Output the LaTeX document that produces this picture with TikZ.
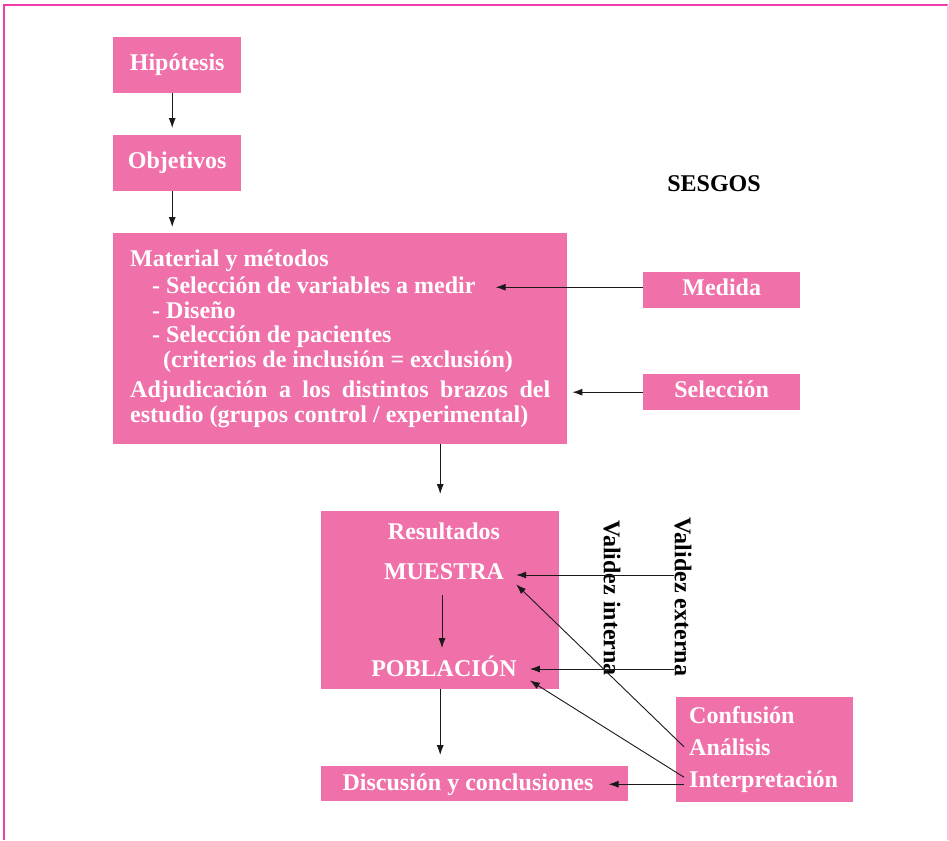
\documentclass[tikz,border=0pt]{standalone}
\usepackage{fontspec}
\setmainfont{Liberation Serif}
\usetikzlibrary{arrows.meta}
\definecolor{boxpink}{RGB}{240,113,169}
\definecolor{framemag}{RGB}{240,60,170}
\definecolor{framelight}{RGB}{249,197,228}

\begin{document}
\begin{tikzpicture}[x=1pt,y=-1pt,
  every node/.style={font=\fontsize{24}{25}\selectfont\bfseries},
  box/.style={fill=boxpink, draw=none, inner sep=0pt, anchor=north west,
              text=white, text height=16pt, text depth=5pt},
  wtxt/.style={text=white, inner sep=0pt},
  btxt/.style={text=black, inner sep=0pt},
  arr/.style={draw=black!90, line width=0.9pt, -{Latex[length=10pt,width=7pt]}}]

\useasboundingbox (0,0) rectangle (949,840);

% page frame
\draw[framemag, line width=2pt] (3.5,840) -- (3.5,5.5) -- (948,5.5);
\draw[framelight, line width=1.5pt] (948,5.5) -- (948,840);

% boxes
\node[box, minimum width=128pt, minimum height=56pt] (hip) at (113,37) {Hipótesis};
\node[box, minimum width=128pt, minimum height=56pt] (obj) at (113,135) {Objetivos};
\node[box, minimum width=454pt, minimum height=211pt] (matbox) at (113,233) {};
\node[box, minimum width=157pt, minimum height=36pt] (medida) at (643,272) {Medida};
\node[box, minimum width=157pt, minimum height=36pt] (selec) at (643,374) {Selección};
\node[box, minimum width=238pt, minimum height=178pt] (resbox) at (321,511) {};
\node[box, minimum width=307pt, minimum height=35pt] (discbox) at (321,766) {};
\node[box, minimum width=177pt, minimum height=105pt] (confbox) at (676,697) {};

% methods text
\node[wtxt, anchor=base west] (mattitle) at (130,266) {Material y métodos};
\node[wtxt, anchor=base west] (var) at (152,293) {- Selección de variables a medir};
\node[wtxt, anchor=base west] (dis) at (152,318) {- Diseño};
\node[wtxt, anchor=base west] (pac) at (152,342) {- Selección de pacientes};
\node[wtxt, anchor=base west] (crit) at (163,367) {(criterios de inclusión = exclusión)};
\node[wtxt, anchor=base west] (adj) at (130,397) {\makebox[420pt][s]{Adjudicación a los distintos brazos del}};
\node[wtxt, anchor=base west] (est) at (130,422) {estudio (grupos control / experimental)};

% heading
\node[btxt, anchor=base] (sesgos) at (714,191) {SESGOS};

% results
\node[wtxt, anchor=base] (res) at (444,539) {Resultados};
\node[wtxt, anchor=base, inner xsep=12pt, inner ysep=5pt] (mue) at (444,579) {MUESTRA};
\node[wtxt, anchor=base, inner xsep=13pt, inner ysep=4pt] (pob) at (444,676) {POBLACIÓN};

% discussion
\node[wtxt, anchor=base, inner xsep=15pt] (disctxt) at (468,790) {Discusión y conclusiones};

% bias sources
\node[wtxt, anchor=base west, inner xsep=5pt] (conf) at (684,723) {Confusión};
\node[wtxt, anchor=base west, inner xsep=5pt] (anal) at (684,755) {Análisis};
\node[wtxt, anchor=base west, inner xsep=5pt] (interp) at (684,787) {Interpretación};

% validity labels
\node[btxt, rotate=-90] (vext) at (683,597) {Validez externa};
\node[btxt, rotate=-90] (vint) at (612,598) {Validez interna};

% helper points for connectors
\coordinate (medL) at ([yshift=3pt]medida.west);
\coordinate (mueL) at ([yshift=4pt]mue.base);
\coordinate (pobL) at ([yshift=7pt]pob.base);
\coordinate (intP) at ([yshift=4pt]interp.west);
\coordinate (intD) at ([yshift=-3pt]interp.west);

% main flow
\draw[arr, shorten >=7pt] ([xshift=-5pt]hip.south) -- ([xshift=-5pt]obj.north);
\draw[arr, shorten >=6pt] ([xshift=-5pt]obj.south) -- ([xshift=-5pt]obj.south |- matbox.north);
\draw[arr, shorten >=17pt] (resbox.north |- matbox.south) -- (resbox.north);
\draw[arr] ([xshift=-2pt,yshift=-16pt]mue.base) -- ([xshift=-2pt,yshift=28pt]pob.base);
\draw[arr, shorten >=11pt] (resbox.south) -- (resbox.south |- discbox.north);

% biases
\draw[arr] (medL) -- ([xshift=20pt]var.east |- medL);
\draw[arr] (selec.west) -- ([xshift=22pt]adj.east |- selec.west);
\draw[arr] (mueL -| vext.south) -- (mueL -| mue.east);
\draw[arr] (pobL -| vext.south) -- (pobL -| pob.east);
\draw[arr] (anal.west) -- (mue.south east);
\draw[arr] (intP) -- (pob.south east);
\draw[arr] (intD) -- (intD -| disctxt.east);

\end{tikzpicture}
\end{document}
